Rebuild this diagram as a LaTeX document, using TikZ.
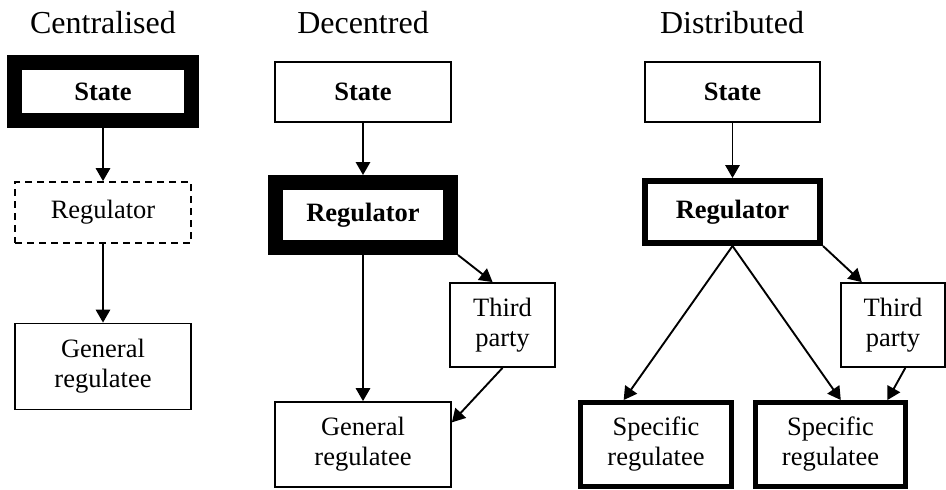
\documentclass[tikz,border=0pt]{standalone}
\usepackage{fontspec}
\setmainfont{Liberation Serif}
\usetikzlibrary{arrows.meta}
\begin{document}
\begin{tikzpicture}[x=0.5pt, y=-0.5pt,
  box/.style={draw, line width=0.9pt, align=center, inner sep=0pt,
    font=\fontsize{13.25pt}{15pt}\selectfont},
  arr/.style={line width=0.95pt, -{Triangle[length=6.5pt, width=7.2pt]}},
  title/.style={font=\fontsize{16pt}{19pt}\selectfont, anchor=base}]
  \useasboundingbox (0,0) rectangle (946,489);

  % Column titles
  \node[title] (tcen) at (103,33) {Centralised};
  \node[title] (tdec) at (363,33) {Decentred};
  \node[title] (tdis) at (732,33) {Distributed};

  % Centralised
  \node[box, line width=7.5pt, minimum width=88.5pt, minimum height=29pt] (cs) at (103,91.5) {\bfseries State};
  \node[box, dash pattern=on 3.5pt off 2.5pt, minimum width=88pt, minimum height=30.5pt] (cr) at (103,212.5) {Regulator};
  \node[box, minimum width=88pt, minimum height=43pt] (cg) at (103,366.5) {General\\regulatee};
  \draw[arr] (cs) -- (cr);
  \draw[arr] (cr) -- (cg);

  % Decentred
  \node[box, minimum width=88pt, minimum height=30pt] (ds) at (363,92) {\bfseries State};
  \node[box, line width=7.5pt, minimum width=87.5pt, minimum height=32.5pt] (dr) at (363,215) {\bfseries Regulator};
  \node[box, minimum width=52.5pt, minimum height=42pt] (dt) at (502.5,325) {Third\\party};
  \node[box, minimum width=88pt, minimum height=42.5pt] (dg) at (363,444.5) {General\\regulatee};
  \draw[arr] (ds) -- (dr);
  \draw[arr] (dr) -- (dg);
  \draw[arr] (dr.south east) -- (dt.103);
  \draw[arr] (dt.south) -- (dg.14);

  % Distributed
  \node[box, minimum width=87.5pt, minimum height=30pt] (ts) at (732.5,92) {\bfseries State};
  \node[box, line width=3pt, minimum width=87.5pt, minimum height=31pt] (tr) at (732.5,212) {\bfseries Regulator};
  \node[box, minimum width=52pt, minimum height=42pt] (tt) at (893,325) {Third\\party};
  \node[box, line width=2.5pt, minimum width=75.5pt, minimum height=42pt] (tp1) at (656,444.5) {Specific\\regulatee};
  \node[box, line width=2.5pt, minimum width=75pt, minimum height=42pt] (tp2) at (830.5,444.5) {Specific\\regulatee};
  \draw[arr] (ts) -- (tr);
  \draw[arr] (tr.south) -- (tp1.126);
  \draw[arr] (tr.south) -- (tp2.77);
  \draw[arr] (tr.south east) -- (tt.126);
  \draw[arr] (tt.286) -- (tp2.38);
\end{tikzpicture}
\end{document}
